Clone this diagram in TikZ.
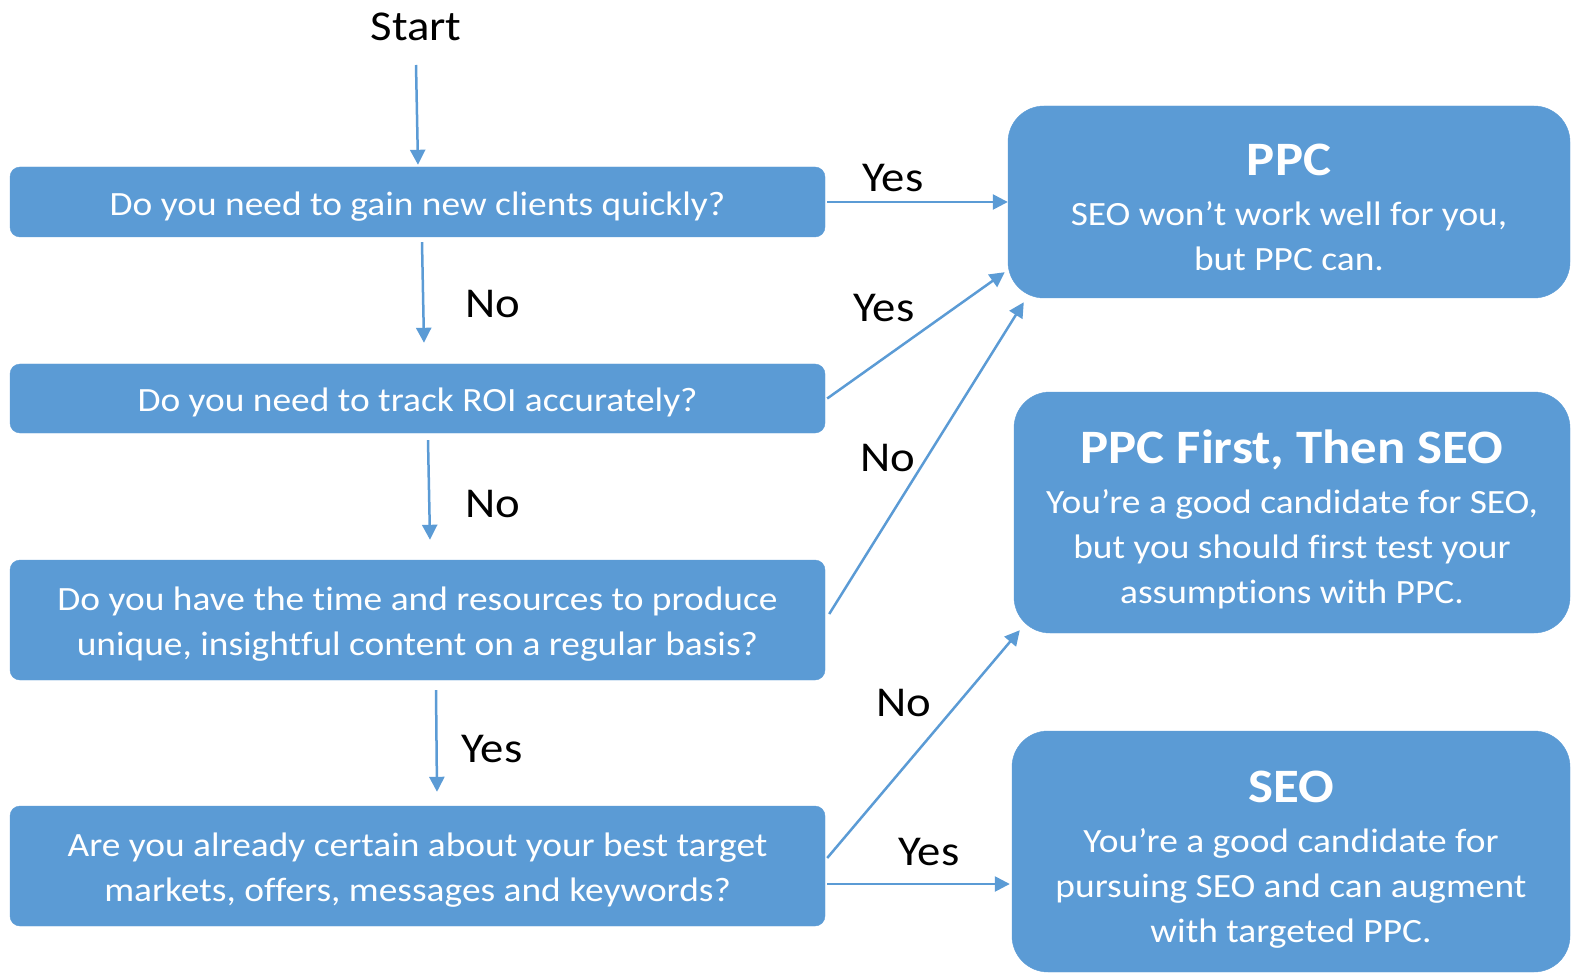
\documentclass[tikz,border=0pt]{standalone}
\usepackage{fontspec}
\setmainfont[FakeStretch=1.1,Ligatures=NoCommon]{Carlito}
\usetikzlibrary{arrows.meta,calc}
\definecolor{boxblue}{HTML}{5B9BD5}
\tikzset{
  qbox/.style={fill=boxblue, draw=boxblue, rounded corners=10pt, text=white,
    align=center, minimum width=815pt, inner sep=0pt,
    font=\fontsize{34}{45}\selectfont},
  rbox/.style={fill=boxblue, draw=boxblue, rounded corners=36pt, text=white,
    align=center, inner sep=0pt,
    font=\fontsize{34}{45}\selectfont},
  arr/.style={draw=boxblue, line width=2.5pt, -{Triangle[length=15pt,width=15pt]}},
  lbl/.style={font=\fontsize{42.5}{50}\selectfont, text=black, inner sep=0pt},
}
% struts that fix the first-line height and last-line depth of box texts
\newcommand{\qtop}{\rule{0pt}{36pt}}
\newcommand{\qbot}{\rule[-9.6pt]{0pt}{9.6pt}}
\newcommand{\rbot}{\rule[-10pt]{0pt}{10pt}}
\newcommand{\boxtitle}[1]{{\bfseries\fontsize{48}{52}\selectfont\rule{0pt}{52pt}#1}}
\begin{document}
\begin{tikzpicture}[x=1pt,y=-1pt]
\useasboundingbox (0,0) rectangle (1572,976);

% question boxes
\node[qbox, minimum height=70pt] (q1) at (417.5,202) {\qtop Do you need to gain new clients quickly?\qbot};
\node[qbox, minimum height=69pt] (q2) at (417.5,398.5) {\qtop Do you need to track ROI accurately?\qbot};
\node[qbox, minimum height=120pt] (q3) at (417.5,620) {\qtop Do you have the time and resources to produce\\unique, insightful content on a regular basis?\qbot};
\node[qbox, minimum height=120pt] (q4) at (417.5,866) {\qtop Are you already certain about your best target\\markets, offers, messages and keywords?\qbot};

% outcome boxes
\node[rbox, minimum width=562pt, minimum height=192pt] (ppc) at (1289,202)
  {\boxtitle{PPC}\\[5pt]SEO won’t work well for you,\\but PPC can.\rbot};
\node[rbox, minimum width=556pt, minimum height=241pt] (ppcseo) at (1292,512.5)
  {\boxtitle{PPC First, Then SEO}\\[5pt]You’re a good candidate for SEO,\\but you should first test your\\assumptions with PPC.\rbot};
\node[rbox, minimum width=558pt, minimum height=241pt] (seo) at (1291,851.5)
  {\boxtitle{SEO}\\[5pt]You’re a good candidate for\\pursuing SEO and can augment\\with targeted PPC.\rbot};

% start
\node[lbl] (start) at (416,27) {Start};
\coordinate (s0) at (416,65);
\draw[arr] (s0) -- ($(q1.north)+(0.5,-2)$);

% vertical flow
\draw[arr] ($(q1.south)+(4.5,5)$) -- ($(q2.north)+(6.5,-21)$);
\draw[arr] ($(q2.south)+(10.5,7)$) -- ($(q3.north)+(12.5,-20)$);
\draw[arr] ($(q3.south)+(18.5,10)$) -- ($(q4.north)+(19.5,-14)$);

% branches to outcomes
\draw[arr] ($(q1.east)+(2,0)$) -- (ppc.west |- q1.east);
\draw[arr] ($(q2.east)+(2,0)$) -- ($(ppc.south west)+(-3,-26)$);
\draw[arr] ($(q3.east)+(4,-6)$) -- ($(ppc.south west)+(16,4)$);
\draw[arr] ($(q4.east)+(2,-8)$) -- ($(ppcseo.south west)+(6,-3)$);
\draw[arr] ($(q4.east)+(2,18)$) -- ($(seo.west)+(-2,32.5)$);

% edge labels
\node[lbl] (l1) at (893,178) {Yes};
\node[lbl] (l2) at (493,304) {No};
\node[lbl] (l3) at (884,308) {Yes};
\node[lbl] (l4) at (493,504) {No};
\node[lbl] (l5) at (888,458) {No};
\node[lbl] (l6) at (492,749) {Yes};
\node[lbl] (l7) at (904,703) {No};
\node[lbl] (l8) at (929,852) {Yes};
\end{tikzpicture}
\end{document}
